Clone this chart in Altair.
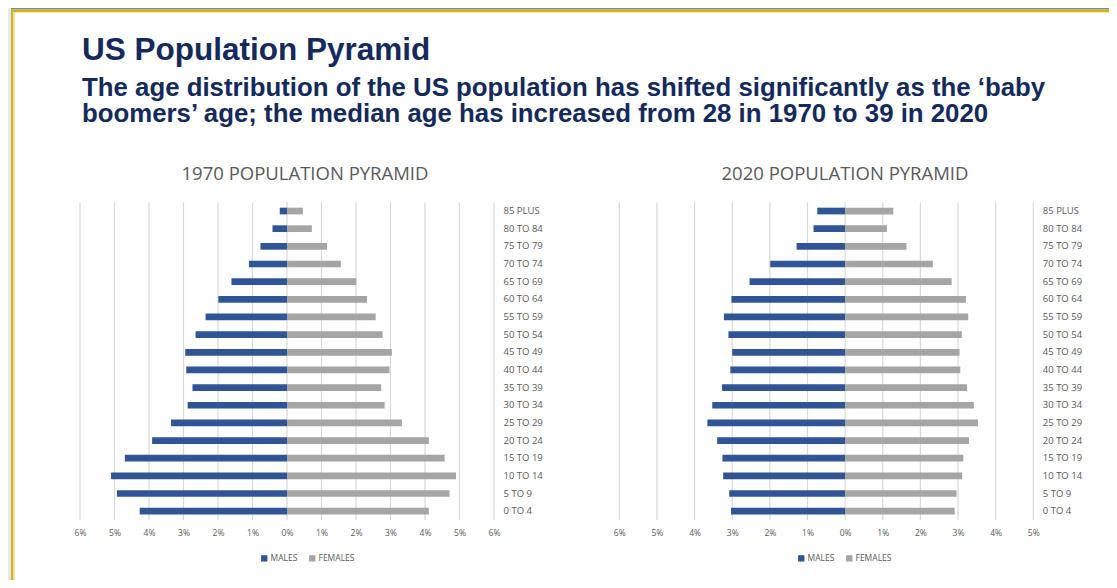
import altair as alt
import pandas as pd

# ---------------- data ----------------
ages = ["85 PLUS", "80 TO 84", "75 TO 79", "70 TO 74", "65 TO 69", "60 TO 64",
        "55 TO 59", "50 TO 54", "45 TO 49", "40 TO 44", "35 TO 39", "30 TO 34",
        "25 TO 29", "20 TO 24", "15 TO 19", "10 TO 14", "5 TO 9", "0 TO 4"]

males_1970 = [0.21, 0.42, 0.77, 1.10, 1.61, 1.99, 2.36, 2.65, 2.95, 2.92, 2.74, 2.88,
              3.36, 3.91, 4.70, 5.10, 4.93, 4.27]
females_1970 = [0.46, 0.72, 1.16, 1.56, 2.01, 2.32, 2.57, 2.77, 3.04, 2.97, 2.73, 2.83,
                3.33, 4.11, 4.57, 4.90, 4.71, 4.11]
males_2020 = [0.74, 0.84, 1.29, 1.99, 2.54, 3.02, 3.22, 3.10, 3.00, 3.05, 3.27, 3.53,
              3.66, 3.40, 3.26, 3.24, 3.08, 3.03]
females_2020 = [1.28, 1.11, 1.63, 2.33, 2.83, 3.21, 3.27, 3.10, 3.04, 3.06, 3.24, 3.42,
                3.53, 3.29, 3.14, 3.11, 2.96, 2.91]

ticks_1970 = [-6, -5, -4, -3, -2, -1, 0, 1, 2, 3, 4, 5, 6]
ticks_2020 = [-6, -5, -4, -3, -2, -1, 0, 1, 2, 3, 4, 5]

sexes = ["MALES", "FEMALES"]
sex_colors = ["#2f5597", "#a5a5a5"]

title_text = "US Population Pyramid"
subtitle_1 = "The age distribution of the US population has shifted significantly as the \u2018baby"
subtitle_2 = "boomers\u2019 age; the median age has increased from 28 in 1970 to 39 in 2020"
panel_title_1970 = "1970 POPULATION PYRAMID"
panel_title_2020 = "2020 POPULATION PYRAMID"

# ---------------- layout constants ----------------
W = 1101
Y_TOP, Y_BOT = 194.2, 512
FULL_H = 572
NAVY = "#142a5c"
GRAY_TXT = "#595959"
one = pd.DataFrame({"k": [0]})


def long_table(m, f):
    rows = []
    for a, mv, fv in zip(ages, m, f):
        rows.append({"age": a, "sex": "MALES", "value": -mv})
        rows.append({"age": a, "sex": "FEMALES", "value": fv})
    return pd.DataFrame(rows)


def pyramid(df, ticks, x_range, legend_x):
    xs = alt.Scale(domain=[ticks[0], ticks[-1]], range=x_range, nice=False, zero=False)
    ys = alt.Scale(domain=ages, range=[Y_TOP, Y_BOT], paddingInner=0.62, paddingOuter=0.31)
    x_axis = alt.Axis(values=ticks, orient="bottom",
                      labelExpr="abs(datum.value) + '%'", title=None,
                      grid=False, domain=False, ticks=False,
                      labelPadding=8, labelFlush=False, zindex=1,
                      labelFont="Open Sans", labelFontSize=8.5,
                      labelColor=GRAY_TXT)
    grid = alt.Chart(pd.DataFrame({"value": ticks})).mark_rule(
        color="#d9d9d9", strokeWidth=1.2
    ).encode(
        x=alt.X("value:Q", scale=xs, axis=x_axis),
        y=alt.value(Y_TOP),
        y2=alt.value(Y_BOT),
    )
    bars = alt.Chart(df).mark_bar().encode(
        x=alt.X("value:Q", scale=xs, stack=None, axis=x_axis),
        y=alt.Y("age:N", scale=ys,
                axis=alt.Axis(orient="right", offset=x_range[1] - W, title=None,
                              grid=False, domain=False, ticks=False,
                              labelPadding=9, labelAlign="left",
                              labelFont="Open Sans", labelFontSize=9.5,
                              labelColor=GRAY_TXT)),
        color=alt.Color("sex:N", scale=alt.Scale(domain=sexes, range=sex_colors),
                        legend=alt.Legend(orient="none", legendX=legend_x, legendY=546,
                                          direction="horizontal", title=None,
                                          symbolType="square", symbolSize=40,
                                          symbolStrokeWidth=0, labelOffset=2,
                                          columnPadding=10, labelFont="Open Sans",
                                          labelFontSize=8.5, labelColor=GRAY_TXT)),
    )
    return alt.layer(grid, bars)


left = pyramid(long_table(males_1970, females_1970), ticks_1970, [72, 486], 252)
right = pyramid(long_table(males_2020, females_2020), ticks_2020, [611.3, 1025.3], 789)


def rect(x, x2, y, y2, color):
    return alt.Chart(one).mark_rect(color=color).encode(
        x=alt.value(x), x2=alt.value(x2), y=alt.value(y), y2=alt.value(y2))


frame = [
    rect(0, 3, 0, FULL_H, "#e4e9ee"),
    rect(3, W, 0, 1.6, "#7d8b99"),
    rect(3, W, 1.6, 4, "#d4b21c"),
    rect(5.5, W, 4, 5, "#f1e6b4"),
    rect(3, 5.5, 1.6, FULL_H, "#d4b21c"),
    rect(5.5, 7, 4, FULL_H, "#f1e6b4"),
]


def text(s, x, y, size, color, weight="normal", align="left", font="Liberation Sans"):
    return alt.Chart(one).mark_text(
        text=s, align=align, baseline="alphabetic", font=font, fontSize=size,
        fontWeight=weight, color=color
    ).encode(x=alt.value(x), y=alt.value(y))


texts = [
    text(title_text, 74, 52, 31.5, NAVY, "bold"),
    text(subtitle_1, 74, 87.5, 25.8, NAVY, "bold"),
    text(subtitle_2, 74, 114, 25.8, NAVY, "bold"),
    text(panel_title_1970, 297, 172, 18.5, GRAY_TXT, align="center", font="Open Sans"),
    text(panel_title_2020, 837, 172, 18.5, GRAY_TXT, align="center", font="Open Sans"),
]

chart = alt.layer(*frame, *texts, left, right).resolve_scale(
    x="independent", y="independent", color="independent"
).properties(
    width=W, height=Y_BOT, autosize=alt.AutoSizeParams(type="none"),
    padding={"left": 0, "top": 0, "right": 0, "bottom": FULL_H - Y_BOT},
    background="white"
).configure_view(strokeWidth=0)

chart.save("out.html", embed_options={"renderer": "svg", "actions": False})
